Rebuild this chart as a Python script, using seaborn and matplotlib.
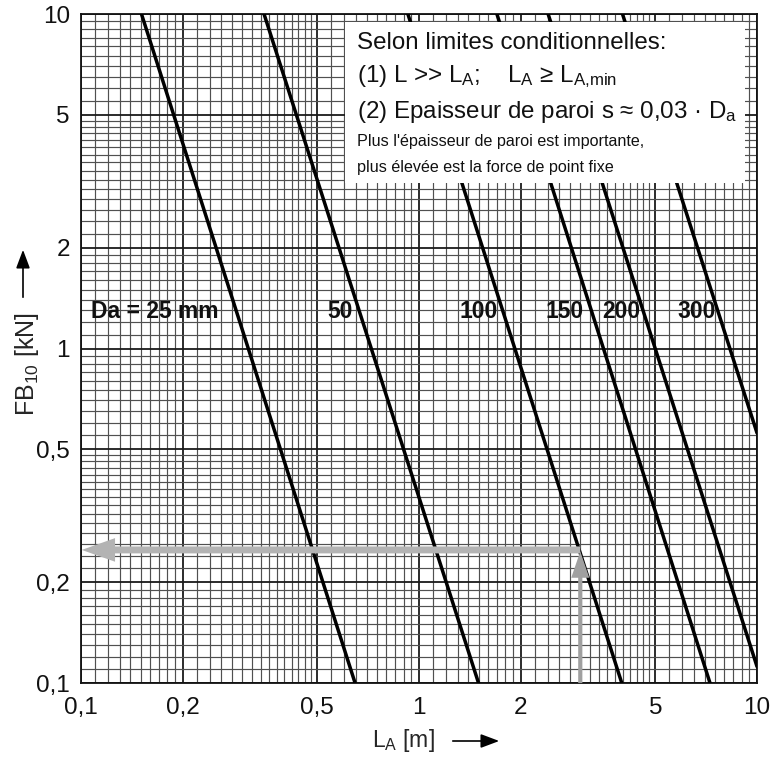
import numpy as np
import pandas as pd
import matplotlib
matplotlib.use("Agg")
import matplotlib.pyplot as plt
import seaborn as sns
from matplotlib.patches import Rectangle, FancyArrowPatch

# ---- data ----
da_mm = [25, 50, 100, 150, 200, 300]
da_labels = ["Da = 25 mm", "50", "100", "150", "200", "300"]
la_start = [0.151, 0.348, 0.927, 1.70, 2.41, 4.00]     # L_A at FB = 10 kN
fb_start = [10.0, 10.0, 10.0, 10.0, 10.0, 10.0]
la_end = [0.647, 1.50, 3.98, 7.26, 10.0, 10.0]
fb_end = [0.1, 0.1, 0.1, 0.1, 0.112, 0.559]
label_x = [0.107, 0.534, 1.322, 2.36, 3.48, 5.80]
label_y = 1.29

example_la = 3.0
example_fb = 0.25

tick_vals = [0.1, 0.2, 0.5, 1, 2, 5, 10]
tick_text = ["0,1", "0,2", "0,5", "1", "2", "5", "10"]

rows = []
for d, x0, y0, x1, y1 in zip(da_mm, la_start, fb_start, la_end, fb_end):
    rows.append({"Da": d, "L_A": x0, "FB": y0})
    rows.append({"Da": d, "L_A": x1, "FB": y1})
df = pd.DataFrame(rows)

sns.set_style("white")
plt.rcParams["font.family"] = ["Liberation Sans", "DejaVu Sans"]
plt.rcParams["mathtext.default"] = "regular"

fig = plt.figure(figsize=(7.75, 7.58), dpi=100)
ax = fig.add_axes([0.1045, 0.0989, 0.8723, 0.8826])

sns.lineplot(data=df, x="L_A", y="FB", hue="Da", palette=["black"] * len(da_mm),
             estimator=None, legend=False, linewidth=2.5, ax=ax, zorder=3)

ax.set_xscale("log")
ax.set_yscale("log")
ax.set_xlim(0.1, 10)
ax.set_ylim(0.1, 10)

# log-paper grid
minor = []
for dec in [0.1, 1.0]:
    for a, b, s in [(1.0, 2.0, 0.1), (2.0, 5.0, 0.2), (5.0, 10.0, 0.5)]:
        for v in np.arange(a + s, b - s / 2, s):
            minor.append(round(v * dec, 4))
ax.set_xticks(tick_vals)
ax.set_xticklabels(tick_text)
ax.set_yticks(tick_vals)
ax.set_yticklabels(tick_text)
ax.set_xticks(minor, minor=True)
ax.set_yticks(minor, minor=True)
ax.set_xticklabels([], minor=True)
ax.set_yticklabels([], minor=True)
ax.grid(which="major", color="#1a1a1a", linewidth=1.3)
ax.grid(which="minor", color="#505050", linewidth=0.85)
ax.tick_params(which="minor", length=0)
ax.tick_params(which="major", length=5, width=1.1, direction="out",
               labelsize=17.5, pad=3, color="black", labelcolor="#111")
ax.tick_params(axis="x", pad=5)
for sp in ax.spines.values():
    sp.set_color("#111")
    sp.set_linewidth(1.3)

ax.set_xlabel("")
ax.set_ylabel("")

# Da labels
for t, x in zip(da_labels, label_x):
    ax.text(x, label_y, t, fontsize=16.5, fontweight="bold", ha="left",
            va="center", color="#111", zorder=4)

# white info box
ax.add_patch(Rectangle((0.3905, 0.747), 0.5915, 0.241, transform=ax.transAxes,
                       facecolor="white", edgecolor="none", zorder=5))
tx = 0.408
big = 17.4
small = 11.6
ax.text(tx, 0.957, "Selon limites conditionnelles:", transform=ax.transAxes,
        fontsize=big, va="center", zorder=6, color="#111")
ax.text(tx, 0.906, "(1) L >> L$_A$;    L$_A$ \u2265 L$_{A{,}min}$", transform=ax.transAxes,
        fontsize=big, va="center", zorder=6, color="#111")
ax.text(tx, 0.853, "(2) Epaisseur de paroi s \u2248 0,03 \u00b7 D$_a$", transform=ax.transAxes,
        fontsize=big, va="center", zorder=6, color="#111")
ax.text(tx, 0.810, "Plus l'\u00e9paisseur de paroi est importante,", transform=ax.transAxes,
        fontsize=small, va="center", zorder=6, color="#111")
ax.text(tx, 0.770, "plus \u00e9lev\u00e9e est la force de point fixe", transform=ax.transAxes,
        fontsize=small, va="center", zorder=6, color="#111")

# grey reading arrows
ax.annotate("", xy=(0.1005, example_fb), xytext=(example_la, example_fb),
            arrowprops=dict(facecolor="#b3b3b3", edgecolor="none", width=5,
                            headwidth=17, headlength=24, shrink=0), zorder=4)
ax.annotate("", xy=(example_la, example_fb * 0.99), xytext=(example_la, 0.1),
            arrowprops=dict(facecolor="#a0a0a0", edgecolor="none", width=3,
                            headwidth=13, headlength=19, shrink=0), zorder=4)

# axis labels with arrows
fig.text(372 / 775, 1 - 741 / 758, "L$_A$ [m]", fontsize=16.5, ha="left", va="center")
fig.add_artist(FancyArrowPatch(
    (450 / 775, 1 - 741 / 758), (502 / 775, 1 - 741 / 758), transform=fig.transFigure,
    arrowstyle="-|>,head_length=0.8,head_width=0.3", mutation_scale=14, color="black", lw=1.2))
fig.text(27 / 775, 1 - 364 / 758, "FB$_{10}$ [kN]", fontsize=18, ha="center", va="center",
         rotation=90)
fig.add_artist(FancyArrowPatch(
    (23 / 775, 1 - 300 / 758), (23 / 775, 1 - 247 / 758), transform=fig.transFigure,
    arrowstyle="-|>,head_length=0.8,head_width=0.3", mutation_scale=14, color="black", lw=1.2))

fig.savefig("out.png", dpi=100)
